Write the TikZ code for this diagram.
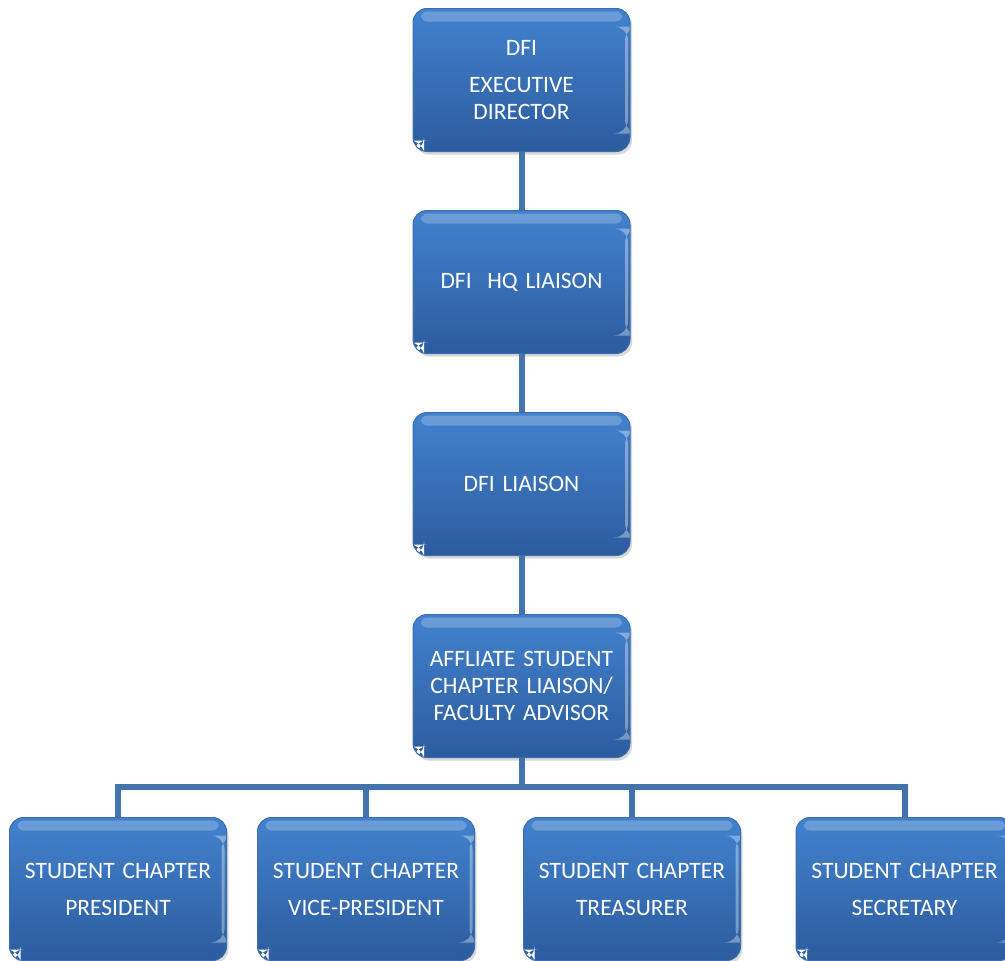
\documentclass[tikz,border=0pt]{standalone}
\usepackage{fontspec}
\setmainfont{Carlito}
\usepackage{tikz}
\usepackage{xcolor}
\usetikzlibrary{positioning, shadows}
\definecolor{boxtop}{RGB}{66, 130, 206}
\definecolor{boxbot}{RGB}{44, 92, 158}
\definecolor{boxedge}{RGB}{60, 110, 175}
\definecolor{linkblue}{RGB}{68, 114, 170}
\tikzset{
    orgbox/.style={rectangle, rounded corners=14pt, draw=boxedge, line width=1pt,
        minimum width=217pt, minimum height=143pt, text width=205pt, align=center,
        top color=boxtop, bottom color=boxbot, text=white,
        font=\fontsize{23.5}{27}\selectfont,
        drop shadow={shadow xshift=2pt, shadow yshift=-3pt, opacity=0.25, fill=black!60},
        path picture={
            \fill[white, opacity=0.22, rounded corners=6pt]
                ([xshift=8pt, yshift=-3pt]path picture bounding box.north west) rectangle
                ([xshift=-8pt, yshift=-13pt]path picture bounding box.north east);
            \fill[white, opacity=0.35]
                ([xshift=-5pt, yshift=-18pt]path picture bounding box.north east) rectangle
                ([xshift=-2pt, yshift=18pt]path picture bounding box.south east);
            \fill[white]
                (path picture bounding box.south west) rectangle
                ([xshift=11pt, yshift=11pt]path picture bounding box.south west);
        }},
    link/.style={draw=linkblue, line width=6pt}
}

\begin{document}
\begin{tikzpicture}[x=1pt, y=-1pt]
    \clip (0,0) rectangle (1005,961);
    \fill[white] (0,0) rectangle (1005,961);

    % spine
    \node[orgbox] (exec) at (521.5,80) {DFI\\[10pt]EXECUTIVE\\DIRECTOR};
    \node[orgbox] (hq) at (521.5,282) {DFI\ \ HQ LIAISON};
    \node[orgbox] (liaison) at (521.5,484) {DFI LIAISON};
    \node[orgbox] (advisor) at (521.5,686) {AFFLIATE STUDENT\\CHAPTER LIAISON/\\FACULTY ADVISOR};

    % student chapter officers
    \node[orgbox] (pres) at (118,889) {STUDENT CHAPTER\\[10pt]PRESIDENT};
    \node[orgbox] (vice) at (366,889) {STUDENT CHAPTER\\[10pt]VICE-PRESIDENT};
    \node[orgbox] (treas) at (632,889) {STUDENT CHAPTER\\[10pt]TREASURER};
    \node[orgbox] (secr) at (904.5,889) {STUDENT CHAPTER\\[10pt]SECRETARY};

    \draw[link] (exec) -- (hq);
    \draw[link] (hq) -- (liaison);
    \draw[link] (liaison) -- (advisor);
    \foreach \n in {pres, vice, treas, secr}
        \draw[link, line join=miter] (advisor.south) -- ++(0,29) -| (\n.north);
\end{tikzpicture}
\end{document}
